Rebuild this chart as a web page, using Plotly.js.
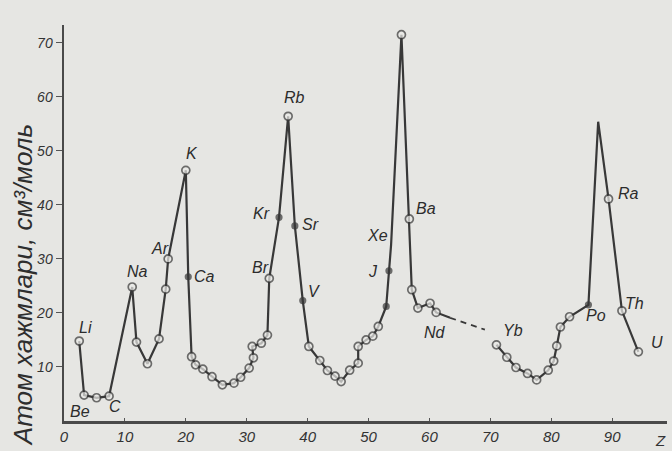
<!DOCTYPE html>
<html>
<head>
<meta charset="utf-8">
<script src="https://cdn.plot.ly/plotly-3.0.1.min.js"></script>
<style>
html,body{margin:0;padding:0;background:#e6e6e3;}
#chart{width:672px;height:451px;}
</style>
</head>
<body>
<div id="chart"></div>
<script>
// Atomic number (Z) and atomic volume (cm^3/mol)
var zMain = [2.5, 3.3, 5.35, 7.4, 11.2, 11.9, 13.7, 15.6, 16.7, 17.1, 20.0, 20.4, 20.95, 21.6, 22.8, 24.3, 26.0, 27.9, 29.0, 30.4, 31.1, 30.9, 32.4, 33.4, 33.7, 35.3, 36.8, 37.9, 39.2, 40.2, 42.0, 43.25, 44.5, 45.5, 46.9, 48.3, 48.3, 49.6, 50.7, 51.6, 52.9, 53.35, 53.7, 55.4, 56.7, 57.1, 58.1, 60.1, 61.1, 63.4];
var vMain = [14.8, 4.8, 4.3, 4.6, 24.8, 14.6, 10.6, 15.2, 24.4, 30.0, 46.4, 26.7, 11.9, 10.4, 9.6, 8.2, 6.7, 7.0, 8.1, 9.8, 11.7, 13.8, 14.4, 15.9, 26.4, 37.7, 56.4, 36.1, 22.3, 13.8, 11.2, 9.35, 8.3, 7.3, 9.4, 10.7, 13.8, 15.0, 15.7, 17.5, 21.2, 27.8, 32.6, 71.5, 37.4, 24.3, 20.9, 21.8, 20.1, 19.1];
// marker kind per point: 'o' open circle, 'f' filled dot, '' no marker
var kMain = ['o','o','o','o','o','o','o','o','o','o','o','f','o','o','o','o','o','o','o','o','o','o','o','o','o','f','o','f','f','o','o','o','o','o','o','o','o','o','o','o','f','f','','o','o','o','o','o','o',''];

var zGap = [63.4, 69.1];
var vGap = [19.1, 16.9];

var zHeavy = [71.0, 72.7, 74.2, 76.1, 77.6, 79.5, 80.4, 80.9, 81.5, 83.0, 86.1, 87.7, 89.4, 91.6, 94.3];
var vHeavy = [14.1, 11.8, 9.9, 8.8, 7.6, 9.4, 11.1, 13.9, 17.4, 19.3, 21.5, 55.4, 41.1, 20.4, 12.8];
var kHeavy = ['o','o','o','o','o','o','o','o','o','o','f','','o','o','o'];

// element labels and their positions (Z, volume)
var labText = ['Li','Be','C','Na','Ar','K','Ca','Br','Kr','Rb','Sr','V','Xe','J','Cs','Ba','Nd','Yb','Po','Ra','Th','U'];
var labZ = [3.5, 2.6, 8.3, 12.0, 15.7, 21.0, 23.1, 32.2, 32.5, 37.9, 40.4, 41.0, 51.4, 50.7, 56.7, 59.5, 60.9, 73.7, 87.3, 92.6, 93.7, 97.4];
var labV = [17.4, 1.7, 2.6, 27.6, 32.0, 49.6, 26.7, 28.5, 38.5, 59.8, 36.3, 24.0, 34.4, 27.6, 74.2, 39.4, 16.3, 16.8, 19.6, 42.2, 21.8, 14.5];

var xTicks = [0,10,20,30,40,50,60,70,80,90];
var yTicks = [10,20,30,40,50,60,70];

var ink = '#383838';
var bg = '#e6e6e3';

function markerStyle(kinds){
  return {
    symbol: 'circle',
    size: kinds.map(function(k){ return k==='o' ? 8 : (k==='f' ? 5.5 : 0); }),
    color: kinds.map(function(k){ return k==='f' ? ink : '#ebebe8'; }),
    line: {color: ink, width: kinds.map(function(k){ return k==='' ? 0 : 1.7; })}
  };
}

var traces = [
  {x: zMain, y: vMain, mode: 'lines+markers', line: {color: ink, width: 2.2}, marker: markerStyle(kMain), hoverinfo: 'x+y', cliponaxis: false},
  {x: zGap, y: vGap, mode: 'lines', line: {color: ink, width: 1.8, dash: '6px,5px'}, hoverinfo: 'skip'},
  {x: zHeavy, y: vHeavy, mode: 'lines+markers', line: {color: ink, width: 2.2}, marker: markerStyle(kHeavy), hoverinfo: 'x+y', cliponaxis: false}
];

var labFont = {family: 'Liberation Sans', size: 16, color: '#2c2c2c', style: 'italic'};
var annotations = labText.map(function(t, i){
  return {x: labZ[i], y: labV[i], text: t, showarrow: false, font: labFont, xanchor: 'center', yanchor: 'middle'};
});
annotations.push({x: 98, y: 0, xref: 'x', yref: 'y', yshift: -19, text: 'Z', showarrow: false,
  font: {family: 'Liberation Sans', size: 15, color: '#333', style: 'italic'}});
annotations.push({xref: 'paper', yref: 'paper', x: -0.068, y: 0.343, textangle: -90,
  text: 'Атом хажмлари, см³/моль', showarrow: false, xanchor: 'center', yanchor: 'middle',
  font: {family: 'Liberation Sans', size: 26, color: '#2e2e2e', style: 'italic'}});

var layout = {
  width: 672, height: 451,
  margin: {l: 64, r: 5, t: 25, b: 30},
  paper_bgcolor: bg, plot_bgcolor: bg,
  showlegend: false,
  xaxis: {range: [0, 99], tickvals: xTicks, ticktext: xTicks.map(String), showgrid: false, zeroline: false,
    showline: true, linecolor: '#4a4a4a', linewidth: 2.5, ticks: 'inside', ticklen: 3, tickcolor: '#555',
    tickfont: {family: 'Liberation Sans', size: 15, color: '#333', style: 'italic'}},
  yaxis: {range: [0, 73.3], tickvals: yTicks, ticktext: yTicks.map(String), showgrid: false, zeroline: false,
    showline: true, linecolor: '#4a4a4a', linewidth: 2.5, ticks: 'outside', ticklen: 6, tickcolor: '#555',
    tickfont: {family: 'Liberation Sans', size: 14, color: '#333', style: 'italic'}},
  annotations: annotations
};

Plotly.newPlot('chart', traces, layout, {staticPlot: true});
</script>
</body>
</html>
